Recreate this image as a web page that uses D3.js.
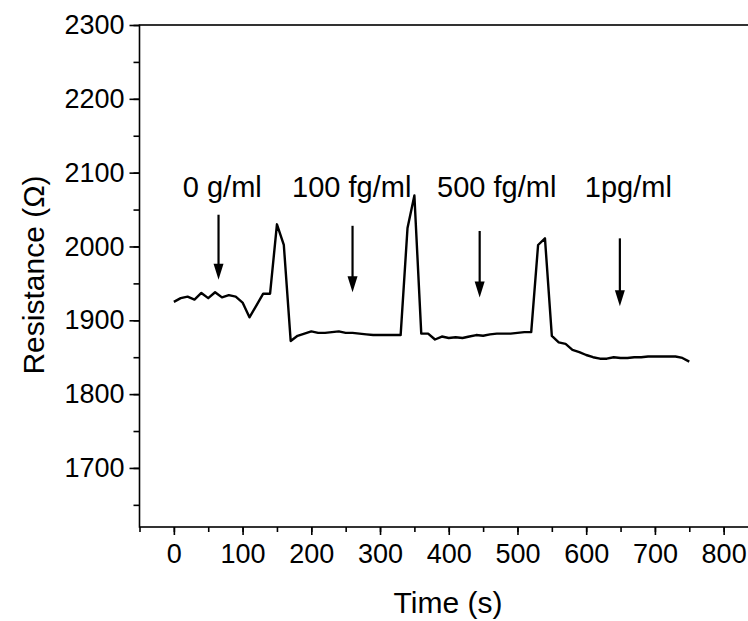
<!DOCTYPE html>
<html>
<head>
<meta charset="utf-8">
<script src="https://cdn.jsdelivr.net/npm/d3@7"></script>
<style>
  html, body { margin: 0; padding: 0; background: #fff; }
  svg { display: block; }
  text { font-family: "Liberation Sans", Arial, sans-serif; fill: #000; }
</style>
</head>
<body>
<svg id="chart" width="748" height="621"></svg>
<script>
// Resistance response over time
const timeS = [0, 10, 20, 30, 40, 50, 60, 70, 80, 90, 100, 110, 120, 130, 140, 150, 160, 170,
  180, 190, 200, 210, 220, 230, 240, 250, 260, 270, 280, 290, 300, 310, 320, 330, 340, 350, 360,
  370, 380, 390, 400, 410, 420, 430, 440, 450, 460, 470, 480, 490, 500, 510, 520, 530, 540, 550,
  560, 570, 580, 590, 600, 610, 620, 630, 640, 650, 660, 670, 680, 690, 700, 710, 720, 730, 740, 750];
const resistance = [1925, 1930, 1932, 1928, 1937, 1930, 1938, 1931, 1934, 1932, 1924, 1904, 1920, 1936, 1936, 2030, 2002, 1872,
  1879, 1882, 1885, 1883, 1883, 1884, 1885, 1883, 1883, 1882, 1881, 1880, 1880, 1880, 1880, 1880, 2025, 2069, 1882,
  1882, 1874, 1878, 1876, 1877, 1876, 1878, 1880, 1879, 1881, 1882, 1882, 1882, 1883, 1884, 1884, 2002, 2011, 1879,
  1870, 1868, 1860, 1857, 1853, 1850, 1848, 1848, 1850, 1849, 1849, 1850, 1850, 1851, 1851, 1851, 1851, 1851, 1849, 1844];

// Injection markers: label, time of arrow, arrow top / tip in ohms
const markerLabels = ["0 g/ml", "100 fg/ml", "500 fg/ml", "1pg/ml"];
const markerTimes = [65, 260, 445, 649];
const markerTop = [2043, 2028, 2021, 2011];
const markerTip = [1955, 1938, 1931, 1919];
const labelLeftTimes = [13, 172, 383, 598];

const xTicks = [0, 100, 200, 300, 400, 500, 600, 700, 800];
const yTicks = [1700, 1800, 1900, 2000, 2100, 2200, 2300];

const svg = d3.select("#chart");
const plotLeft = 139.5, plotTop = 25, plotBottom = 527, plotRight = 758;

const x = d3.scaleLinear().domain([-50, 850]).range([plotLeft, plotRight]);
const y = d3.scaleLinear().domain([1620, 2300]).range([plotBottom, plotTop]);

const tickFont = 27, titleFont = 30, noteFont = 29;

// frame
svg.append("rect")
  .attr("x", plotLeft).attr("y", plotTop)
  .attr("width", plotRight - plotLeft).attr("height", plotBottom - plotTop)
  .attr("fill", "none").attr("stroke", "#000").attr("stroke-width", 1.6);

// x axis: major + minor ticks
const xAxis = svg.append("g").attr("transform", `translate(0,${plotBottom})`);
xAxis.append("g")
  .call(d3.axisBottom(x).tickValues(d3.range(-50, 851, 50)).tickSize(5).tickFormat(""))
  .call(g => g.select(".domain").remove());
xAxis.append("g")
  .call(d3.axisBottom(x).tickValues(xTicks).tickSize(8).tickPadding(9).tickFormat(d3.format("d")))
  .call(g => g.select(".domain").remove());
xAxis.selectAll("line").attr("stroke", "#000").attr("stroke-width", 1.6);
xAxis.selectAll("text").attr("font-size", tickFont).attr("fill", "#000")
  .style("font-family", "'Liberation Sans', Arial, sans-serif");

// y axis: major + minor ticks
const yAxis = svg.append("g").attr("transform", `translate(${plotLeft},0)`);
yAxis.append("g")
  .call(d3.axisLeft(y).tickValues(d3.range(1650, 2301, 50)).tickSize(6).tickFormat(""))
  .call(g => g.select(".domain").remove());
yAxis.append("g")
  .call(d3.axisLeft(y).tickValues(yTicks).tickSize(10).tickPadding(5).tickFormat(d3.format("d")))
  .call(g => g.select(".domain").remove());
yAxis.selectAll("line").attr("stroke", "#000").attr("stroke-width", 1.6);
yAxis.selectAll("text").attr("font-size", tickFont).attr("fill", "#000")
  .style("font-family", "'Liberation Sans', Arial, sans-serif");

// axis titles
svg.append("text")
  .attr("x", 448).attr("y", 613)
  .attr("text-anchor", "middle").attr("font-size", titleFont)
  .text("Time (s)");
svg.append("text")
  .attr("transform", `translate(44,275) rotate(-90)`)
  .attr("text-anchor", "middle").attr("font-size", titleFont)
  .text("Resistance (Ω)");

// data trace
const line = d3.line().x((d, i) => x(timeS[i])).y(d => y(d));
svg.append("path")
  .datum(resistance)
  .attr("d", line)
  .attr("fill", "none").attr("stroke", "#000")
  .attr("stroke-width", 2.4).attr("stroke-linejoin", "round");

// injection arrows and labels
markerLabels.forEach((lab, i) => {
  const cx = x(markerTimes[i]);
  const yTop = y(markerTop[i]);
  const yTip = y(markerTip[i]);
  svg.append("line")
    .attr("x1", cx).attr("x2", cx)
    .attr("y1", yTop).attr("y2", yTip - 10)
    .attr("stroke", "#000").attr("stroke-width", 2.2);
  svg.append("path")
    .attr("d", `M${cx - 5},${yTip - 16} L${cx + 5},${yTip - 16} L${cx},${yTip} Z`)
    .attr("fill", "#000");
  svg.append("text")
    .attr("x", x(labelLeftTimes[i])).attr("y", 197)
    .attr("font-size", noteFont)
    .text(lab);
});
</script>
</body>
</html>
